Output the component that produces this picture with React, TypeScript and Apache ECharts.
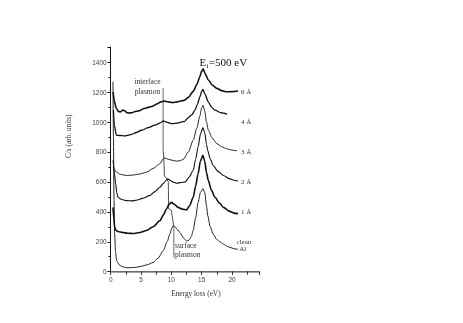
import React, { useEffect, useRef } from "react";
import * as echarts from "echarts";

// Energy loss (eV) vs counts (C/s, arb. units)
const cleanAl: number[][] = [
  [0.38, 1270], [0.45, 900], [0.55, 480], [0.65, 250], [0.8, 130], [1.0, 70], [1.5, 42], [2.0, 32],
  [2.6, 27], [3.5, 27], [4.3, 30], [5.0, 36], [6.0, 46], [7.0, 62], [7.8, 90], [8.65, 139], [9.3, 200],
  [9.75, 251], [10.05, 290], [10.3, 307], [10.6, 300], [11.0, 282], [11.4, 262], [12.0, 225], [12.5, 206],
  [12.9, 210], [13.3, 235], [13.6, 277], [14.0, 360], [14.4, 460], [14.8, 530], [15.2, 555], [15.5, 530],
  [15.8, 440], [16.0, 375], [16.4, 300], [16.9, 251], [17.5, 215], [18.0, 200], [18.6, 184], [19.3, 168],
  [20.0, 158], [20.5, 152], [21.0, 150],
];
const al1: number[][] = [
  [0.38, 430], [0.5, 360], [0.66, 296], [0.9, 275], [1.2, 269], [2.0, 262], [2.8, 257], [3.7, 255],
  [4.8, 262], [5.9, 275], [7.0, 300], [8.1, 340], [8.7, 380], [9.2, 419], [9.6, 450], [10.0, 463],
  [10.5, 450], [11.1, 430], [11.8, 418], [12.5, 412], [13.0, 440], [13.6, 497], [14.0, 570], [14.4, 654],
  [14.8, 740], [15.2, 777], [15.5, 740], [15.8, 660], [16.1, 609], [16.6, 545], [17.2, 497], [17.9, 460],
  [18.6, 430], [19.5, 405], [20.5, 390], [21.0, 388],
];
const al2: number[][] = [
  [0.4, 745], [0.6, 660], [0.83, 587], [1.0, 530], [1.2, 497], [1.8, 482], [2.6, 475], [3.4, 473],
  [4.2, 477], [5.3, 490], [6.4, 508], [7.3, 535], [8.1, 564], [8.7, 590], [9.1, 609], [9.4, 620],
  [9.9, 608], [10.4, 598], [10.9, 591], [11.6, 596], [12.3, 600], [12.9, 630], [13.6, 676], [14.0, 750],
  [14.4, 833], [14.8, 920], [15.2, 963], [15.5, 930], [15.8, 850], [16.0, 810], [16.4, 755], [16.9, 710],
  [17.7, 670], [18.6, 643], [19.5, 622], [20.5, 609], [21.0, 606],
];
const al3: number[][] = [
  [0.45, 700], [0.7, 680], [0.94, 665], [1.6, 650], [2.6, 643], [3.5, 645], [4.7, 652], [5.9, 665],
  [7.0, 690], [8.1, 721], [8.8, 761], [9.2, 755], [9.8, 748], [10.4, 742], [10.9, 739], [11.5, 742],
  [12.0, 752], [12.8, 800], [13.6, 878], [14.2, 960], [14.7, 1040], [15.0, 1095], [15.2, 1112],
  [15.5, 1075], [15.8, 1000], [16.1, 945], [16.7, 895], [17.5, 856], [18.3, 835], [19.1, 822],
  [20.0, 812], [20.8, 808],
];
const al4: number[][] = [
  [0.45, 1080], [0.6, 980], [0.94, 911], [1.5, 910], [2.3, 907], [2.9, 912], [3.4, 917], [4.2, 930],
  [5.07, 945], [6.2, 962], [7.3, 979], [8.2, 995], [8.65, 1007], [9.2, 1000], [10.0, 990], [11.0, 993],
  [12.2, 1005], [12.8, 1030], [13.4, 1050], [13.9, 1079], [14.3, 1120], [14.7, 1168], [15.0, 1205],
  [15.2, 1218], [15.5, 1190], [16.1, 1135], [16.6, 1100], [17.2, 1079], [18.2, 1062], [19.2, 1052],
];
const al6: number[][] = [
  [0.4, 1200], [0.6, 1140], [0.94, 1090], [1.3, 1070], [1.6, 1068], [2.0, 1080], [2.3, 1075], [2.7, 1062],
  [3.0, 1060], [3.5, 1062], [4.0, 1070], [4.7, 1075], [5.5, 1090], [6.2, 1098], [6.9, 1105], [7.6, 1120],
  [8.3, 1135], [8.8, 1140], [9.5, 1135], [10.2, 1130], [11.0, 1135], [12.1, 1145], [12.8, 1165],
  [13.6, 1205], [14.2, 1250], [14.7, 1303], [15.0, 1340], [15.25, 1355], [15.6, 1320], [16.1, 1281],
  [16.8, 1245], [17.5, 1225], [18.3, 1210], [19.1, 1202], [20.0, 1203], [21.0, 1207],
];
// plasmon guide lines
const interfaceGuide: number[][] = [[8.65, 1225], [8.65, 810]];
const connectGuide: number[][] = [
  [8.65, 810], [8.75, 770], [8.85, 640], [9.2, 625], [9.5, 600], [9.55, 420], [10.0, 410], [10.1, 380], [10.4, 307],
];
const surfaceGuide: number[][] = [[10.4, 307], [10.4, 95]];

// right-hand labels (thickness of overlayer)
const rightLabels: Record<number, string> = {
  1200: "6 Å", 1000: "4 Å", 800: "3 Å", 600: "2 Å", 400: "1 Å", 200: "clean", 150: "{al|Al}",
};
const xTicks = [0, 5, 10, 15, 20];
const yTicks = [0, 200, 400, 600, 800, 1000, 1200, 1400];

const SERIF = "'Liberation Serif', 'DejaVu Serif', serif";
const SANS = "'Liberation Sans', Arial, sans-serif";

export default function App() {
  const ref = useRef<HTMLDivElement>(null);
  useEffect(() => {
    if (!ref.current) return;
    const chart = echarts.init(ref.current, null, { renderer: "svg" });
    const line = (name: string, data: number[][], width: number, color = "#111") => ({
      name,
      type: "line",
      data,
      showSymbol: false,
      smooth: 0.25,
      smoothMonotone: "x",
      lineStyle: { color, width },
      silent: true,
      z: 3,
    });
    chart.setOption({
      animation: false,
      grid: { left: 110.7, right: 203.7, top: 47.2, bottom: 51.3 },
      xAxis: [
        {
          type: "value", min: 0, max: 24.5, interval: 5, position: "bottom",
          axisLine: { show: true, lineStyle: { color: "#111", width: 1 } },
          axisTick: { show: true, inside: false, length: 3, lineStyle: { color: "#111" } },
          minorTick: { show: true, splitNumber: 2, length: 2, lineStyle: { color: "#111" } },
          axisLabel: {
            fontSize: 6.5, fontFamily: SANS, color: "#444", margin: 4,
            formatter: (v: number) => (xTicks.includes(v) ? String(v) : ""),
          },
          splitLine: { show: false },
        },
        {
          type: "value", min: 0, max: 24.5, interval: 2.5, position: "top",
          axisLine: { show: true, lineStyle: { color: "#888", width: 1.5 } },
          axisTick: { show: true, inside: true, length: 3, lineStyle: { color: "#333" } },
          axisLabel: { show: false },
          splitLine: { show: false },
        },
      ],
      yAxis: [
        {
          type: "value", min: 0, max: 1500, interval: 200, position: "left",
          axisLine: { show: true, lineStyle: { color: "#111", width: 1 } },
          axisTick: { show: true, inside: false, length: 3, lineStyle: { color: "#111" } },
          minorTick: { show: true, splitNumber: 2, length: 2, lineStyle: { color: "#111" } },
          axisLabel: {
            fontSize: 6.5, fontFamily: SANS, color: "#444", margin: 4,
            formatter: (v: number) => (yTicks.includes(v) ? String(v) : ""),
          },
          splitLine: { show: false },
        },
        {
          type: "value", min: 0, max: 1500, interval: 200, position: "right",
          axisLine: { show: true, lineStyle: { color: "#111", width: 1 } },
          axisTick: { show: true, inside: true, length: 3, lineStyle: { color: "#111" } },
          minorTick: { show: true, splitNumber: 2, length: 2, lineStyle: { color: "#111" } },
          axisLabel: { show: false },
          splitLine: { show: false },
        },
        {
          type: "value", min: 0, max: 1500, interval: 50, position: "right",
          axisLine: { show: false }, axisTick: { show: false }, splitLine: { show: false },
          axisLabel: {
            inside: true, margin: 8, fontSize: 7, fontFamily: SERIF, color: "#333",
            formatter: (v: number) => rightLabels[v] ?? "",
            rich: { al: { fontSize: 7, fontFamily: SERIF, color: "#333", padding: [0, 5, 0, 0] } },
          },
        },
      ],
      series: [
        line("clean Al", cleanAl, 1, "#222"),
        line("1 Å", al1, 1.6),
        line("2 Å", al2, 1.1),
        line("3 Å", al3, 0.9),
        line("4 Å", al4, 1.3),
        line("6 Å", al6, 1.6),
        { ...line("interface guide", interfaceGuide, 1.6, "#a0a0a0"), smooth: false, z: 2 },
        { ...line("connector", connectGuide, 0.8, "#222"), smooth: false, z: 2 },
        { ...line("surface guide", surfaceGuide, 1.6, "#a0a0a0"), smooth: false, z: 2 },
      ],
    });

    const px = (x: number, y: number) => chart.convertToPixel({ xAxisIndex: 0, yAxisIndex: 0 }, [x, y]) as number[];
    const iface = px(6.06, 1237);
    const surf = px(10.6, 144);
    const ei = px(14.66, 1400);
    const yName = px(0, 905);
    const xName = px(14.05, 0);
    chart.setOption({
      graphic: [
        {
          type: "text", x: iface[0], y: iface[1],
          style: { text: "interface\nplasmon", font: `7.5px ${SERIF}`, fill: "#333", textAlign: "center", textVerticalAlign: "middle", lineHeight: 9.6 },
        },
        {
          type: "text", x: surf[0], y: surf[1],
          style: { text: "surface\nplasmon", font: `7.5px ${SERIF}`, fill: "#333", textAlign: "left", textVerticalAlign: "middle", lineHeight: 9.4 },
        },
        { type: "text", x: ei[0], y: ei[1], style: { text: "E", font: `11px ${SERIF}`, fill: "#111", textAlign: "left", textVerticalAlign: "middle" } },
        { type: "text", x: ei[0] + 6.8, y: ei[1] + 3.5, style: { text: "i", font: `7px ${SERIF}`, fill: "#111", textAlign: "left", textVerticalAlign: "middle" } },
        { type: "text", x: ei[0] + 9.2, y: ei[1], style: { text: "=500 eV", font: `11px ${SERIF}`, fill: "#111", textAlign: "left", textVerticalAlign: "middle" } },
        {
          type: "text", x: yName[0] - 42.5, y: yName[1], rotation: Math.PI / 2,
          style: { text: "C/s (arb. units)", font: `7.3px ${SERIF}`, fill: "#333", textAlign: "center", textVerticalAlign: "middle" },
        },
        {
          type: "text", x: xName[0], y: xName[1] + 21.6,
          style: { text: "Energy loss (eV)", font: `7.3px ${SERIF}`, fill: "#333", textAlign: "center", textVerticalAlign: "middle" },
        },
      ],
    });
    return () => chart.dispose();
  }, []);
  return <div ref={ref} style={{ position: "fixed", left: 0, top: 0, width: 463, height: 323 }} />;
}
